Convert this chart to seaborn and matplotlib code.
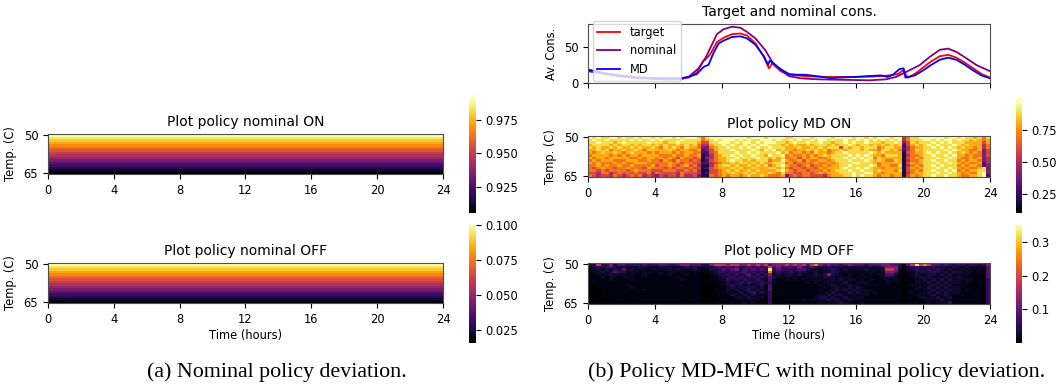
import numpy as np
import pandas as pd
import matplotlib
matplotlib.use("Agg")
import matplotlib.pyplot as plt
import seaborn as sns

# ---------------- data ----------------
HOUR_LABELS = ["0", "4", "8", "12", "16", "20", "24"]
TEMP_LABELS = ["50", "65"]

# nominal policy (constant in time, varies with temperature row 50..65)
NOM_ON_ROWS = [0.989, 0.984, 0.978, 0.973, 0.967, 0.962, 0.956, 0.950,
               0.945, 0.939, 0.934, 0.928, 0.923, 0.917, 0.912, 0.906]
NOM_OFF_ROWS = [0.100, 0.094, 0.089, 0.083, 0.078, 0.072, 0.066, 0.061,
                0.055, 0.050, 0.044, 0.038, 0.033, 0.027, 0.022, 0.016]

# MD policy, coded per cell (digit -> level), 16 temperature rows x 96 quarter hours
ON_LEVELS = [0.12, 0.20, 0.30, 0.40, 0.50, 0.60, 0.70, 0.80, 0.88, 0.97]
MD_ON_ROWS = [
    "9898 8998 9889 8998 9899 8989 9986 8999 9999 9989 9989 9998 8999 9899 9989 9998 9989 8999 8994 6889 9999 9899 8988 7868",
    "8988 9888 8898 9889 8988 8898 8886 7898 9998 9898 8999 8988 9898 8989 9898 8988 9898 9898 9894 6888 9989 8998 9887 8767",
    "8898 8878 9888 8898 8878 8988 8875 5889 9989 8998 9899 9887 8988 9889 8878 8989 8898 8878 8983 5878 8898 9898 8877 7757",
    "7888 8787 8878 7887 8787 7878 7864 4788 9898 8989 8998 8878 7877 8788 8787 8898 7887 8787 8782 5787 8989 8889 8787 7746",
    "8787 7878 7787 8778 7687 8768 7763 3678 8988 9898 9889 8887 7787 7878 7888 5878 8788 8678 8772 4677 8898 9898 7877 6746",
    "7787 8677 8778 7687 7778 7677 6672 3578 8898 8889 8798 9787 7677 8787 8677 8788 8787 7688 7862 4687 8888 8989 8776 6735",
    "7678 7787 6787 7767 6777 6767 7662 2568 8889 8898 9888 8978 6776 7687 7678 8988 8889 8787 7771 5677 8989 8898 7876 7635",
    "6777 7676 7677 6777 7666 7667 6671 2467 8898 9889 8879 8896 7667 6767 8788 8898 9898 7768 8871 4667 8898 8989 7767 6635",
    "7677 6777 7766 7677 6767 6576 6561 3467 7889 8888 9887 8786 6757 6776 6788 8989 8989 6877 7771 5676 8889 8898 7667 6734",
    "6767 7766 6777 6676 6576 5766 5651 2567 7898 8787 8886 7797 6675 7667 7678 8898 8898 7876 6871 4667 8898 8988 6767 7634",
    "7676 6676 7667 7766 6667 6656 6552 2456 7787 8878 7877 8886 7566 6676 6767 8889 9888 7677 7771 5767 8889 8898 7676 6724",
    "6676 7667 6676 6667 5667 6567 5641 1467 8878 7787 8786 7897 6656 7566 7677 8898 8889 8677 6681 4676 8898 9888 6767 7623",
    "6567 6656 6766 6576 6656 5665 6551 2567 7787 8778 7778 8786 5665 6657 6777 8988 9898 7767 7771 5767 8889 8898 7676 6783",
    "6656 5666 6567 6665 5566 6556 5641 1556 7878 7787 8777 7897 6566 5666 7678 8898 8988 7877 7681 5676 8898 8989 6767 7883",
    "5546 6456 5656 5564 6555 5465 5541 2556 7787 7878 7778 7686 6556 6567 6777 8889 8899 7767 7771 4677 8889 8898 7676 6893",
    "6545 5465 4565 6454 3545 5464 4531 1656 7677 6787 7876 6673 5656 6555 4677 7889 8988 7677 6771 5767 8898 8988 7667 7892",
]
OFF_LEVELS = [0.002, 0.010, 0.022, 0.038, 0.058, 0.085, 0.12, 0.18, 0.25, 0.33]
MD_OFF_ROWS = [
    "3373 4635 5444 4544 4554 4566 5554 4677 7677 6676 7675 6667 6767 5786 5655 4565 5545 5566 5540 5797 8755 4543 4434 4346",
    "2343 4532 3222 3322 2333 2234 3422 3345 4545 4454 5457 5645 5464 4543 3433 3232 3323 2346 6630 3443 4343 3323 2232 2225",
    "1232 3243 5232 2212 2223 2322 2321 2334 5456 3545 4549 4544 4355 3322 3343 2322 2232 2237 7620 2343 3434 3232 2222 1215",
    "1223 2354 3222 1221 2212 2121 1211 1234 4343 4534 3438 3433 4333 2232 2243 2212 2122 2126 6510 2233 3343 2323 3222 1215",
    "1122 2322 2121 1211 1212 1112 1110 0123 3434 3453 4346 2323 3232 2232 3632 2121 1212 1225 5310 1232 2332 3232 2221 1115",
    "1112 1221 2211 1211 1111 1211 1110 0112 3343 4344 3435 3222 2221 2222 3322 2221 2121 1123 3210 1223 2322 2322 3211 1115",
    "0111 1211 1121 1111 1111 1121 1110 0112 2434 3433 4325 2112 1212 1222 2232 3222 1212 1112 2210 1122 3232 3232 2222 1114",
    "0111 1111 1111 1111 1111 1111 1110 0111 2323 4343 3434 2111 1111 2121 2222 2321 2221 1112 1110 1122 2323 2322 2121 1114",
    "0011 1111 1211 1111 1111 1111 1110 0011 2343 3232 3425 1111 1111 1112 1232 2232 2121 2111 1110 1212 2232 3231 1211 1104",
    "0011 1111 1121 1111 1111 1111 1110 0011 1232 3333 2315 1111 1111 1111 2123 2232 3211 1111 1110 1122 2323 2322 2111 1104",
    "0001 1111 1111 1211 1111 1111 1110 0011 1323 2342 3225 1111 1111 1112 1223 2323 2222 1111 1110 1121 2232 3232 2121 1104",
    "0001 1111 1111 1111 1111 1111 1110 0001 1222 3234 2324 1111 1111 1111 2232 2232 3221 2111 1110 1212 2323 2322 2111 1104",
    "0001 1111 1111 1111 1111 1111 1110 0001 1132 2323 2124 0111 1111 1112 2323 3222 2221 1111 1110 1122 2232 2321 1211 1104",
    "0000 1011 1111 1111 1111 1111 1110 0001 1112 2232 2214 0111 1111 1123 3232 2322 2211 1111 1110 1112 2223 2231 1111 1104",
    "0000 0011 1101 1111 1111 1111 1110 0001 1111 2122 2114 0011 1112 1222 2323 2232 2111 1111 1110 1111 2222 3221 1111 1104",
    "0000 0001 1011 1111 1111 1101 1110 0001 1111 1212 1114 0001 1111 1112 2222 3221 1211 1111 1110 1111 1212 2241 1111 1104",
]

# consumption curves (hour, value)
T_TARGET = [0, 1, 2, 3, 4, 5, 5.5, 6, 6.5, 6.9, 7.0, 7.3, 7.7, 8.1, 8.6, 9.1, 9.5, 10, 10.5, 10.8,
            11.0, 11.5, 12, 13, 14, 15, 16, 17, 18, 18.5, 18.8, 19.1, 19.5, 20, 20.5, 21, 21.5,
            22, 22.5, 23, 23.5, 24]
V_TARGET = [17, 13, 9.5, 7.5, 6.5, 6, 6, 7, 14, 31, 32, 40, 57, 63, 68, 69, 66, 55, 36, 20,
            27, 16, 11, 9, 8, 8, 8, 8.5, 10, 12, 17, 7, 12, 21, 30, 37, 39, 35, 28, 20, 12, 7]
T_NOMINAL = [0, 1, 2, 3, 4, 5, 5.6, 6.0, 6.6, 7.0, 7.7, 8.1, 8.6, 9.1, 9.5, 10, 10.6, 11, 11.5,
             12, 12.7, 13.7, 15.7, 16.8, 17.8, 18.4, 19, 19.8, 20.4, 21, 21.5, 22, 22.6, 23.2, 24]
V_NOMINAL = [16, 12, 8.5, 6, 5, 4.6, 5, 8, 20, 34, 68, 75, 78.5, 77, 71, 62, 45, 29, 17.6,
             9, 6, 4.6, 3.7, 3.2, 4.6, 8, 15, 24.5, 36, 46, 47.7, 43, 34, 24.5, 16]
T_MD = [0, 1, 2, 3, 4, 5, 5.5, 6, 6.5, 6.9, 7.2, 7.5, 7.8, 8.1, 8.6, 9.1, 9.5, 10, 10.5, 10.75,
        10.85, 11.0, 11.5, 12, 12.5, 13, 14, 14.5, 15, 16, 17, 17.5, 17.9, 18.2, 18.6, 18.85,
        18.95, 19.5, 20, 20.5, 21, 21.5, 22, 22.5, 23, 23.5, 24]
V_MD = [18.5, 13, 10, 7, 6, 6, 6, 8, 12, 22, 25, 42, 55, 59, 64, 65, 62, 53, 37, 25,
        31, 28, 19, 12, 11, 11, 8, 6, 7, 8, 9.5, 10, 8, 11, 19, 20,
        7, 10, 17, 25, 32, 35, 32, 25, 17, 10, 6]

N_COLS = 96


def decode(rows, levels):
    return np.array([[levels[int(c)] for c in r.replace(" ", "")] for r in rows])


nom_on = pd.DataFrame(np.repeat(np.array(NOM_ON_ROWS)[:, None], N_COLS, axis=1))
nom_off = pd.DataFrame(np.repeat(np.array(NOM_OFF_ROWS)[:, None], N_COLS, axis=1))
md_on = pd.DataFrame(decode(MD_ON_ROWS, ON_LEVELS))
md_off = pd.DataFrame(decode(MD_OFF_ROWS, OFF_LEVELS))

# ---------------- figure ----------------
plt.rcParams["font.family"] = ["DejaVu Sans"]
plt.rcParams["font.size"] = 8.3
plt.rcParams["axes.titlesize"] = 10

W, H = 1060, 390
fig = plt.figure(figsize=(W / 100, H / 100), dpi=100)


def add_ax(x0, y0, x1, y1):
    return fig.add_axes([x0 / W, 1 - y1 / H, (x1 - x0) / W, (y1 - y0) / H])


def heat(ax, cax, data, vmin, vmax, ticks, extend, title, xlabel=None):
    sns.heatmap(data, ax=ax, cmap="inferno", vmin=vmin, vmax=vmax, cbar_ax=cax,
                xticklabels=False, yticklabels=False,
                cbar_kws={"extend": extend, "ticks": ticks})
    ax.set_xticks(np.arange(0, N_COLS + 1, 16))
    ax.set_xticklabels(HOUR_LABELS, rotation=0)
    ax.set_yticks([0.5, data.shape[0] - 0.5])
    ax.set_yticklabels(TEMP_LABELS, rotation=0)
    ax.tick_params(length=3.5, width=0.8)
    for sp in ax.spines.values():
        sp.set_visible(True)
        sp.set_linewidth(0.8)
        sp.set_color("0.3")
    ax.set_ylabel("Temp. (C)", labelpad=5)
    ax.set_title(title)
    if xlabel:
        ax.set_xlabel(xlabel, labelpad=2)
    cax.tick_params(length=3.5, width=0.8)
    return ax


# left panel
ax1 = add_ax(48, 134, 443, 174)
cax1 = add_ax(469, 95, 476, 213)
heat(ax1, cax1, nom_on, 0.906, 0.989, [0.925, 0.950, 0.975], "max", "Plot policy nominal ON")

ax2 = add_ax(48, 263, 443, 303)
cax2 = add_ax(469, 225, 476, 343)
heat(ax2, cax2, nom_off, 0.016, 0.100, [0.025, 0.050, 0.075, 0.100], "neither",
     "Plot policy nominal OFF", "Time (hours)")

# right panel: consumption curves
ax3 = add_ax(588, 24, 990, 83)
df = pd.concat([
    pd.DataFrame({"time": T_TARGET, "cons": V_TARGET, "series": "target"}),
    pd.DataFrame({"time": T_NOMINAL, "cons": V_NOMINAL, "series": "nominal"}),
    pd.DataFrame({"time": T_MD, "cons": V_MD, "series": "MD"}),
])
palette = {"target": "red", "nominal": "purple", "MD": "blue"}
sns.lineplot(data=df, x="time", y="cons", hue="series", palette=palette,
             linewidth=1.3, ax=ax3, sort=False, estimator=None)
ax3.set_xlim(0, 24)
ax3.set_xticks(np.arange(0, 25, 4))
ax3.set_xticklabels([])
ax3.set_yticks([0, 50])
ax3.set_xlabel("")
ax3.set_ylabel("Av. Cons.")
ax3.set_title("Target and nominal cons.")
for sp in ax3.spines.values():
    sp.set_linewidth(0.8)
    sp.set_color("0.3")
handles, labels = ax3.get_legend_handles_labels()
ax3.legend(handles, labels, loc="upper left", bbox_to_anchor=(0.012, 1.05),
           borderaxespad=0, fontsize=8.3, title=None)

ax4 = add_ax(588, 136, 990, 177)
cax4 = add_ax(1016, 97, 1022, 213)
heat(ax4, cax4, md_on, 0.10, 0.96, [0.25, 0.50, 0.75], "max", "Plot policy MD ON")

ax5 = add_ax(588, 263, 990, 304)
cax5 = add_ax(1016, 225, 1022, 343)
heat(ax5, cax5, md_off, 0.0, 0.35, [0.1, 0.2, 0.3], "neither",
     "Plot policy MD OFF", "Time (hours)")

# captions
fig.text(277 / W, 1 - 372 / H, "(a) Nominal policy deviation.", ha="center", va="center",
         family="Liberation Serif", size=15.8)
fig.text(817 / W, 1 - 372 / H, "(b) Policy MD-MFC with nominal policy deviation.",
         ha="center", va="center", family="Liberation Serif", size=15.8)

fig.savefig("out.png", dpi=100)
